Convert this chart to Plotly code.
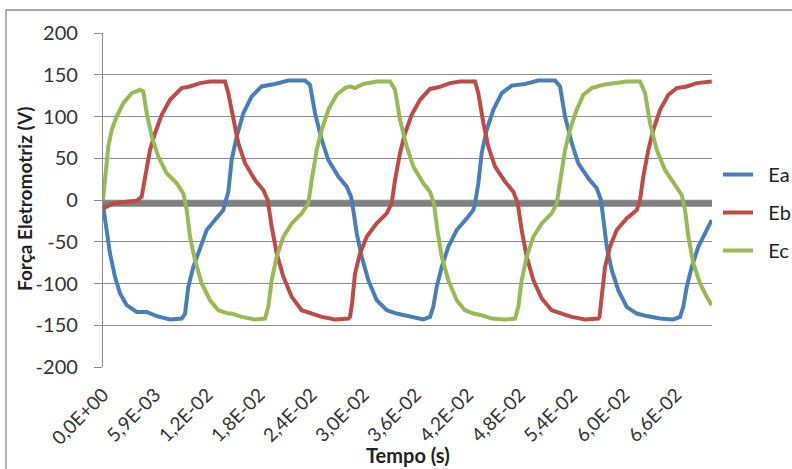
import plotly.graph_objects as go

# ---- data (time in ms, EMF in V) ----
t_ea = [0, 0.42, 0.79, 1.36, 1.93, 2.68, 3.82, 4.95, 6.08, 7.59, 8.91, 9.29, 9.66, 10.23, 10.99,
        11.74, 12.68, 13.62, 14.19, 14.57, 15.14, 15.89, 16.84, 17.97, 19.48, 20.98, 22.88, 23.44,
        24.01, 24.77, 25.51, 26.65, 27.60, 28.08, 28.34, 28.73, 29.30, 30.04, 30.99, 32.13, 33.26,
        34.77, 36.27, 37.03, 37.40, 37.79, 38.36, 39.10, 40.05, 41.19, 41.93, 42.13, 42.50, 42.88,
        43.45, 44.20, 45.15, 46.28, 47.79, 49.29, 51.19, 51.75, 52.32, 53.08, 53.82, 54.96, 55.91,
        56.39, 56.65, 57.04, 57.61, 58.35, 59.30, 60.44, 61.57, 63.08, 64.58, 65.34, 65.71, 66.10,
        66.67, 67.41, 68.17, 68.93]
ea = [-6, -40, -64, -92, -112, -126, -134, -134, -139, -143, -142, -136, -104, -80, -56,
      -36, -24, -12, 10, 48, 76, 104, 124, 136, 139, 143, 143, 138,
      104, 72, 48, 28, 16, 4, -12, -40, -68, -96, -120, -132, -136,
      -140, -143, -140, -128, -104, -80, -56, -36, -22, -12, -4, 20, 56,
      84, 108, 128, 137, 139, 143, 143, 136, 100, 68, 44, 26, 14,
      0, -24, -56, -84, -108, -128, -136, -139, -142, -143, -140, -128, -104,
      -80, -56, -40, -24]

t_eb = [0, 1.17, 2.68, 3.82, 4.38, 4.76, 5.32, 5.89, 6.65, 7.59, 8.91, 9.85, 10.99, 12.12,
        13.82, 14.19, 14.76, 15.32, 16.08, 17.21, 18.15, 18.65, 19.10, 19.67, 20.42, 21.37, 22.50,
        23.63, 24.77, 26.27, 27.78, 27.97, 28.20, 28.54, 29.10, 29.86, 30.99, 32.13, 32.69, 33.07,
        33.63, 34.20, 34.96, 35.90, 37.03, 37.97, 39.30, 40.43, 41.93, 42.13, 42.50, 43.07, 43.63,
        44.39, 45.52, 46.46, 46.96, 47.41, 47.98, 48.73, 49.68, 50.81, 51.94, 53.08, 54.58, 56.09,
        56.22, 56.51, 56.85, 57.41, 58.17, 59.30, 60.44, 60.81, 61.18, 61.75, 62.32, 63.08, 64.02,
        64.97, 66.10, 67.23, 68.93]
eb = [-10, -4, -2, -1, 4, 28, 60, 80, 102, 120, 134, 136, 140, 142,
      142, 128, 96, 68, 44, 24, 12, 0, -32, -64, -92, -116, -132,
      -136, -140, -143, -142, -140, -124, -88, -64, -44, -28, -16, -4, 24,
      56, 80, 102, 120, 133, 135, 140, 142, 142, 142, 128, 92, 64,
      40, 22, 10, -4, -36, -68, -96, -118, -132, -136, -140, -143, -142,
      -140, -112, -80, -56, -36, -22, -12, 0, 28, 60, 84, 108, 126,
      134, 136, 140, 142]

t_ec = [0, 0.34, 0.60, 0.99, 1.55, 2.30, 3.25, 4.19, 4.56, 4.95, 5.52, 6.26, 7.21, 8.35,
        9.09, 9.48, 9.85, 10.42, 11.18, 12.12, 13.06, 14.19, 14.57, 15.71, 17.21, 18.35, 18.72,
        19.10, 19.67, 20.42, 21.37, 22.50, 23.25, 23.63, 24.20, 24.77, 25.51, 26.46, 27.40, 27.97,
        28.54, 29.48, 30.99, 32.50, 33.07, 33.63, 34.39, 35.14, 36.27, 37.03, 37.48, 37.86, 38.36,
        39.10, 40.05, 40.99, 41.93, 42.88, 44.02, 45.52, 46.66, 47.03, 47.41, 47.98, 48.73, 49.68,
        50.81, 51.38, 51.75, 52.32, 52.88, 53.64, 54.39, 55.34, 56.65, 57.79, 59.30, 60.81, 61.38,
        61.94, 62.70, 63.64, 64.77, 65.53, 65.91, 66.28, 66.85, 67.61, 68.36, 68.93]
ec = [0, 36, 64, 84, 100, 116, 128, 132, 130, 104, 76, 52, 32, 20,
      8, -12, -44, -72, -100, -120, -132, -136, -136, -140, -143, -142, -128,
      -96, -68, -44, -28, -16, -4, 24, 60, 84, 108, 126, 134, 136,
      134, 139, 142, 142, 132, 96, 64, 40, 20, 10, -4, -36, -68,
      -96, -120, -132, -136, -138, -142, -143, -142, -128, -96, -68, -44, -28,
      -16, -4, 24, 60, 84, 108, 126, 134, 138, 140, 142, 142, 128,
      92, 60, 36, 18, 6, -12, -44, -76, -100, -116, -126]

x_tickvals = [0, 0.0059, 0.0118, 0.0177, 0.0236, 0.0295, 0.0354, 0.0413, 0.0472, 0.0531, 0.059, 0.0649]
x_ticktext = ["0,0E+00", "5,9E-03", "1,2E-02", "1,8E-02", "2,4E-02", "3,0E-02",
              "3,6E-02", "4,2E-02", "4,8E-02", "5,4E-02", "6,0E-02", "6,6E-02"]
y_tickvals = [-200, -150, -100, -50, 0, 50, 100, 150, 200]
y_ticktext = ["-200", "-150", "-100", "-50", "0", "50", "100", "150", "200"]
x_max = 0.06896
axis_level = -4

series = [("Ea", t_ea, ea, "#4A7EBB"), ("Eb", t_eb, eb, "#BE4B48"), ("Ec", t_ec, ec, "#98B954")]

FONT = "Lato, 'Open Sans', sans-serif"
NB = "\u00a0\u00a0"
fig = go.Figure()
for i, (name, t, v, col) in enumerate(series):
    fig.add_trace(go.Scatter(x=[ti / 1000 for ti in t], y=v, mode="lines", name=NB + name,
                             legendgroup=name, line=dict(color=col, width=4)))

W, H = 792, 469
ml, mr, mt, mb = 103, 80, 33, 102
pw, ph = W - ml - mr, H - mt - mb

def px(x):
    return (x - ml) / pw

def py(y):
    return (H - mb - y) / ph

fig.update_layout(
    width=W, height=H,
    margin=dict(l=ml, r=mr, t=mt, b=mb, autoexpand=False),
    paper_bgcolor="white", plot_bgcolor="white",
    font=dict(family=FONT, size=19, color="#333333"),
    showlegend=True,
    legend=dict(x=px(718), y=py(155), xanchor="left", yanchor="top",
                font=dict(size=20, color="#222222"), tracegroupgap=9,
                bgcolor="rgba(0,0,0,0)"),
    xaxis=dict(range=[0, x_max], tickvals=x_tickvals, ticktext=x_ticktext,
               tickangle=-45, showgrid=False, zeroline=False, showline=False,
               ticks="", ticklabelstandoff=12, tickfont=dict(size=19, color="#333333")),
    yaxis=dict(range=[-200, 200], tickvals=y_tickvals, ticktext=y_ticktext, showgrid=True,
               gridcolor="#8C8C8C", gridwidth=1.3, zeroline=False,
               showline=True, linecolor="#8C8C8C", linewidth=1.3,
               ticks="outside", ticklen=8, tickcolor="#8C8C8C", tickwidth=1.3,
               ticklabelstandoff=12, tickfont=dict(size=20, color="#333333")),
    shapes=[
        dict(type="line", xref="paper", yref="y", x0=0, x1=1, y0=axis_level, y1=axis_level,
             line=dict(color="#808080", width=7), layer="below"),
        dict(type="rect", xref="paper", yref="paper", x0=px(6), x1=px(W + 20),
             y0=py(H + 20), y1=py(10), line=dict(color="#8C8C8C", width=1.3), layer="below"),
    ],
    annotations=[
        dict(text="<b>Força Eletromotriz (V)</b>", xref="paper", yref="paper",
             x=px(24), y=py(199), textangle=-90, showarrow=False,
             font=dict(size=19, color="#222222"), xanchor="center", yanchor="middle"),
        dict(text="<b>Tempo (s)</b>", xref="paper", yref="paper",
             x=px(408), y=py(455), showarrow=False,
             font=dict(size=20, color="#222222"), xanchor="center", yanchor="middle"),
    ],
)

fig.write_html("out.html")
